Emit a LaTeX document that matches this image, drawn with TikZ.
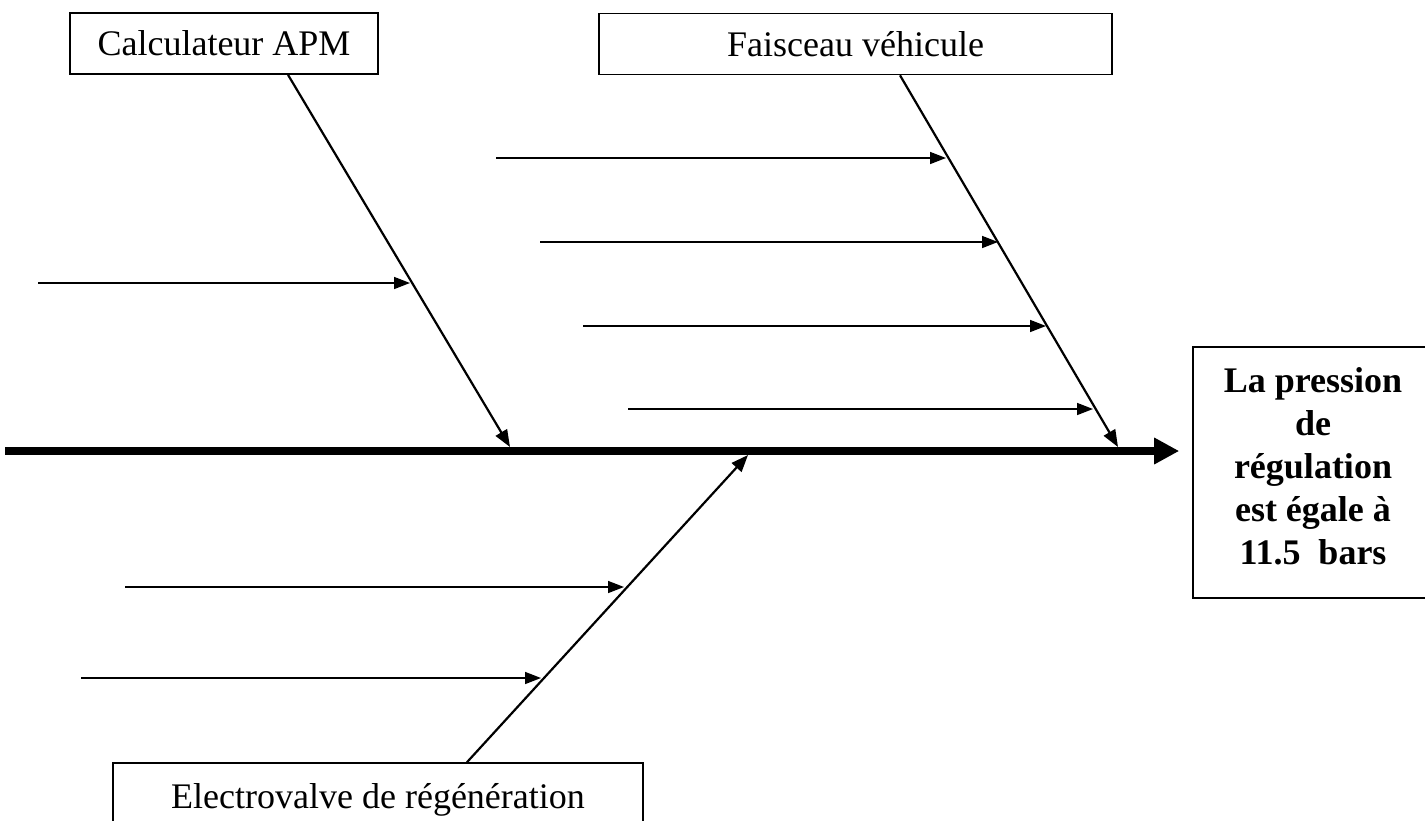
\documentclass[tikz,border=0pt]{standalone}
\usepackage{fontspec}
\setmainfont{Liberation Serif}
\usetikzlibrary{arrows.meta,calc}
\begin{document}
\begin{tikzpicture}[x=1pt,y=-1pt,
  cause/.style={draw, line width=1.6pt, minimum height=61pt, inner sep=0pt, font=\fontsize{36}{43}\selectfont},
  bone/.style={line width=2.2pt, -{Triangle[length=17pt,width=13pt]}},
  sub/.style={line width=1.6pt, -{Triangle[length=16pt,width=12pt]}},
  spine/.style={line width=8pt, -{Triangle[length=25pt,width=25pt]}},
]
\useasboundingbox (0,0) rectangle (1425,820);
\clip (0,0) rectangle (1425,820);

% cause boxes
\node[cause, minimum width=308pt] (calc) at (224,43.5) {Calculateur APM};
\node[cause, minimum width=513pt] (fais) at (855.5,44) {Faisceau véhicule};
\node[cause, minimum width=530pt, minimum height=74pt] (elec) at (378,800) {Electrovalve de régénération};

% effect box
\node[draw, line width=1.6pt, minimum width=247pt, minimum height=251pt, inner sep=0pt] (resbox) at (1316.5,472.5) {};
\node[font=\bfseries\fontsize{36}{43}\selectfont, align=center, inner sep=0pt, anchor=north] (res) at (1313,367) {La pression\\de\\régulation\\est égale à\\11.5\ \ bars};

% spine
\coordinate (sL) at (5,451);
\coordinate (sR) at ($(resbox.west |- sL)+(-13,0)$);
\draw[spine] (sL) -- (sR);

% bones
\coordinate (cB) at (510,447);
\coordinate (fB) at (1118,447);
\coordinate (eB) at (748,455);
\draw[bone] ($(calc.south)+(64,0)$) -- (cB);
\draw[bone] ($(fais.south)+(44.5,0)$) -- (fB);
\draw[bone] ($(elec.north)+(89,0)$) -- (eB);

% sub-causes
\coordinate (c1s) at (38,283);  \coordinate (c1e) at (410,283);
\draw[sub] (c1s) -- (c1e);

\coordinate (f1s) at (496,158); \coordinate (f1e) at (946,158);
\coordinate (f2s) at (540,242); \coordinate (f2e) at (998,242);
\coordinate (f3s) at (583,326); \coordinate (f3e) at (1046,326);
\coordinate (f4s) at (628,409); \coordinate (f4e) at (1093,409);
\draw[sub] (f1s) -- (f1e);
\draw[sub] (f2s) -- (f2e);
\draw[sub] (f3s) -- (f3e);
\draw[sub] (f4s) -- (f4e);

\coordinate (e1s) at (125,587); \coordinate (e1e) at (624,587);
\coordinate (e2s) at (81,678);  \coordinate (e2e) at (541,678);
\draw[sub] (e1s) -- (e1e);
\draw[sub] (e2s) -- (e2e);
\end{tikzpicture}
\end{document}
